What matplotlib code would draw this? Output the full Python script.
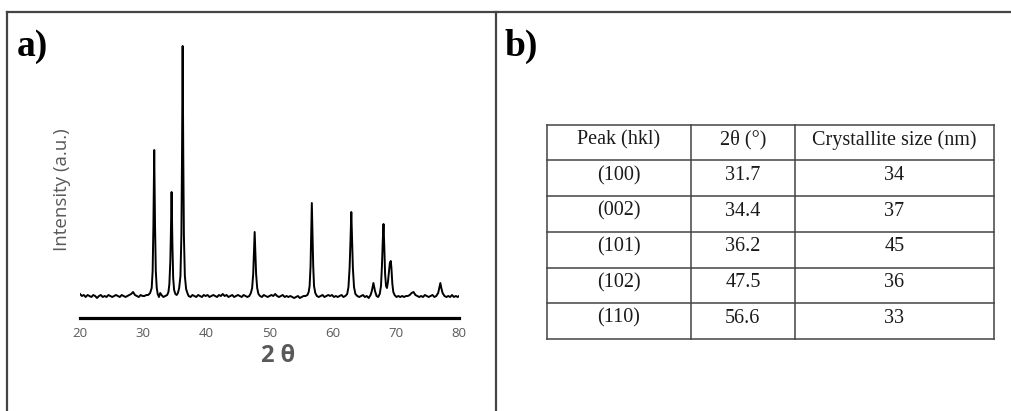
import matplotlib
matplotlib.use("Agg")
import matplotlib.pyplot as plt
from matplotlib.lines import Line2D

# XRD pattern (intensity in arbitrary units, baseline ~0)
two_theta = [
    20.0, 20.3, 20.6, 20.9, 21.2, 21.5, 21.8, 22.1, 22.4, 22.7, 23.0, 23.3, 23.6, 23.9,
    24.2, 24.5, 24.8, 25.1, 25.4, 25.7, 26.0, 26.3, 26.6, 26.9, 27.2, 27.5, 27.8, 28.1,
    28.4, 28.7, 29.0, 29.3, 29.6, 29.9, 30.2, 30.5, 30.8, 31.1,
    31.35, 31.5, 31.62, 31.75, 31.88, 32.0, 32.15, 32.3, 32.5, 32.7, 32.9, 33.2, 33.5,
    33.8, 34.0,
    34.15, 34.3, 34.38, 34.5, 34.62, 34.75, 34.9, 35.1, 35.3, 35.5, 35.7,
    35.9, 36.05, 36.15, 36.25, 36.35, 36.45, 36.6, 36.8, 37.0, 37.2, 37.5, 37.8,
    38.1, 38.4, 38.7, 39.0, 39.3, 39.6, 39.9, 40.2, 40.5, 40.8, 41.1, 41.4, 41.7, 42.0,
    42.3, 42.6, 42.9, 43.2, 43.5, 43.8, 44.1, 44.4, 44.7, 45.0, 45.3, 45.6, 45.9, 46.2,
    46.5, 46.8, 47.05,
    47.25, 47.42, 47.55, 47.65, 47.75, 47.88, 48.05, 48.25, 48.5, 48.8, 49.1, 49.4,
    49.7, 50.0, 50.3, 50.6, 50.9, 51.2, 51.5, 51.8, 52.1, 52.4, 52.7, 53.0, 53.3, 53.6,
    53.9, 54.2, 54.5, 54.8, 55.1, 55.4, 55.7, 56.0, 56.2,
    56.35, 56.5, 56.6, 56.7, 56.8, 56.92, 57.05, 57.25, 57.5, 57.8, 58.1, 58.4, 58.7,
    59.0, 59.3, 59.6, 59.9, 60.2, 60.5, 60.8, 61.1, 61.4, 61.7, 62.0, 62.3,
    62.5, 62.68, 62.82, 62.95, 63.08, 63.2, 63.38, 63.6, 63.9, 64.2, 64.5, 64.8, 65.1,
    65.4, 65.7, 66.0, 66.2, 66.45, 66.7, 66.95, 67.2, 67.45, 67.65,
    67.8, 67.93, 68.05, 68.17, 68.3, 68.45, 68.6, 68.75, 68.9, 69.05, 69.2, 69.3, 69.45,
    69.6, 69.8, 70.1, 70.4, 70.7, 71.0, 71.3, 71.6, 71.9, 72.2, 72.5, 72.8, 73.1, 73.4,
    73.7, 74.0, 74.3, 74.6, 74.9, 75.2, 75.5, 75.8, 76.1, 76.4, 76.7, 76.9, 77.05, 77.2,
    77.4, 77.7, 78.0, 78.3, 78.6, 78.9, 79.2, 79.5, 79.8, 80.0,
]
intensity = [
    2, 0, 1, -1, 1, 0, -1, 1, 0, -2, 0, 1, -1, 0,
    -1, 1, 0, -1, 0, 1, 0, -1, 1, 0, -1, 0, 1, 2,
    4, 1, 0, -1, 1, 0, 0, 1, 1, 3,
    8, 25, 70, 146, 70, 25, 8, 2, -1, 3, 1, -1, 0,
    1, 4,
    12, 35, 60, 104, 55, 18, 6, 2, 1, 3, 8,
    20, 60, 140, 250, 140, 60, 20, 7, 3, 0, -1, 1,
    0, -1, 1, 0, -1, 1, 0, 1, -1, 0, 1, 0, -1, 1,
    0, 2, 0, 1, -1, 0, 1, -1, 0, 1, 0, -1, 1, 0,
    -1, 0, 3,
    8, 22, 45, 64, 45, 22, 8, 2, 0, -1, 1, 0,
    -1, 0, 1, 0, 2, 0, -1, 0, 1, -1, 0, -1, 0, -1,
    -2, -1, 0, -2, -1, 0, 0, 1, 4,
    10, 30, 62, 93, 62, 30, 10, 3, 0, -1, 0, 1, -1,
    0, 1, 0, 1, -1, 0, -1, 0, 1, -1, 0, 2,
    9, 28, 55, 84, 55, 28, 9, 2, 0, -1, 0, 1, -1,
    0, -2, 1, 5, 13, 5, 0, -1, 2, 10,
    30, 55, 72, 50, 22, 10, 8, 14, 24, 33, 35, 28, 12,
    4, 1, -1, 0, -1, 0, -1, 0, 0, 1, 3, 4, 1, 0,
    -1, 0, -1, 1, 0, -1, 0, 1, -1, 0, 3, 9, 13, 8,
    3, 0, -1, 0, -1, 1, -1, 0, -1, 0,
]
x_ticks = [20, 30, 40, 50, 60, 70, 80]

# table in panel b
col_labels = ["Peak (hkl)", "2\u03b8 (\u00b0)", "Crystallite size (nm)"]
peaks_hkl = ["(100)", "(002)", "(101)", "(102)", "(110)"]
peak_2theta = ["31.7", "34.4", "36.2", "47.5", "56.6"]
crystallite_nm = ["34", "37", "45", "36", "33"]

W, H = 1012, 411
fig = plt.figure(figsize=(W / 100, H / 100), dpi=100)
sans = ["Open Sans", "DejaVu Sans"]
serif = ["Liberation Serif", "DejaVu Serif"]

# frame lines around the two panels
frame = "#444444"
fig.add_artist(Line2D([7 / W, 1], [1 - 12 / H, 1 - 12 / H], color=frame, lw=1.6))
fig.add_artist(Line2D([7 / W, 7 / W], [0, 1 - 12 / H], color=frame, lw=1.6))
fig.add_artist(Line2D([496 / W, 496 / W], [0, 1 - 12 / H], color=frame, lw=1.6))

# panel a: XRD pattern
ax = fig.add_axes([80 / W, 1 - 318 / H, 379 / W, 278 / H])
ax.plot(two_theta, intensity, color="black", lw=1.4)
ax.set_xlim(20, 80)
ax.set_ylim(-22, 256)
for s in ["top", "left", "right"]:
    ax.spines[s].set_visible(False)
ax.spines["bottom"].set_linewidth(2.3)
ax.spines["bottom"].set_color("black")
ax.set_yticks([])
ax.set_xticks(x_ticks)
ax.tick_params(axis="x", length=0, pad=6.5, labelsize=9.5, labelcolor="#595959")
for lbl in ax.get_xticklabels():
    lbl.set_family(sans)

fig.text(278 / W, 1 - 356 / H, "2 \u03b8", ha="center", va="center", fontsize=17,
         fontweight="bold", color="#595959", family=sans)
fig.text(62 / W, 1 - 190 / H, "Intensity (a.u.)", rotation=90, ha="center", va="center",
         fontsize=13.5, color="#595959", family=sans)

fig.text(17 / W, 1 - 56 / H, "a)", fontsize=27, fontweight="bold",
         family=serif, va="baseline")
fig.text(505 / W, 1 - 56 / H, "b)", fontsize=27, fontweight="bold",
         family=serif, va="baseline")

# panel b: table drawn as a grid
left, right, top, bottom = 546.7, 994.3, 124.7, 339
tx = fig.add_axes([left / W, 1 - bottom / H, (right - left) / W, (bottom - top) / H])
tx.set_xlim(0, 1)
tx.set_ylim(6, 0)
tx.axis("off")
col_edges = [0, 0.3224, 0.554, 1]
for r in range(7):
    tx.plot([0, 1], [r, r], color=frame, lw=1.1, clip_on=False)
for c in col_edges:
    tx.plot([c, c], [0, 6], color=frame, lw=1.1, clip_on=False)

rows = [col_labels] + [list(t) for t in zip(peaks_hkl, peak_2theta, crystallite_nm)]
for r, row in enumerate(rows):
    for c, txt in enumerate(row):
        xc = (col_edges[c] + col_edges[c + 1]) / 2
        tx.text(xc, r + 0.42, txt, ha="center", va="center", fontsize=14.5,
                family=serif, color="#1a1a1a")

fig.savefig("out.png", dpi=100)
